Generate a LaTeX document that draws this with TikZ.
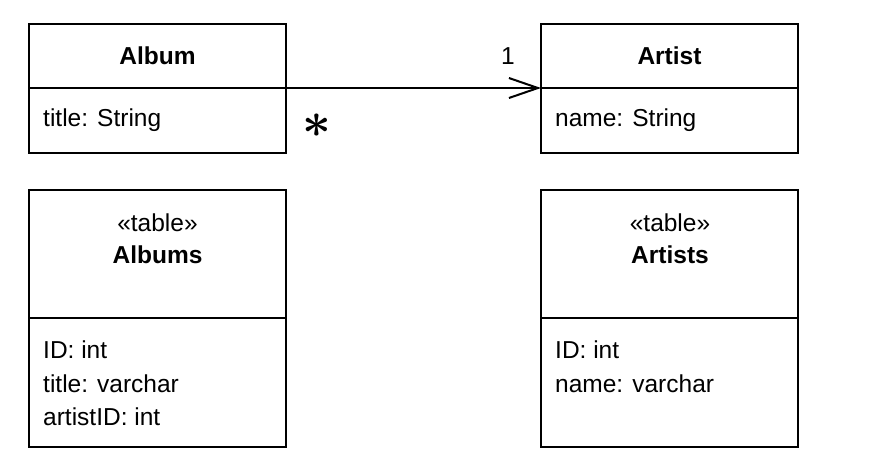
\documentclass[tikz,border=0pt]{standalone}
\usepackage{fontspec}
\usepackage{graphicx}
\setmainfont{Liberation Sans}
\usetikzlibrary{arrows.meta}
\begin{document}
\begin{tikzpicture}[x=1pt,y=-1pt,
  box/.style={draw, line width=2pt, minimum width=257pt, inner sep=0pt, outer sep=0pt, anchor=north west},
  cname/.style={font=\fontsize{24.5}{28}\selectfont\bfseries, inner sep=0pt},
  plain/.style={font=\fontsize{24.5}{28}\selectfont, inner sep=0pt},
  attr/.style={plain, anchor=west},
  mult/.style={font=\fontsize{10}{12}\selectfont\boldmath, inner sep=0pt},
  assoc/.style={line width=2pt, -{Straight Barb[length=29pt,width=20pt]}},
]
\useasboundingbox (0,0) rectangle (890,469);
% Album class
\node[box, minimum height=64pt] (albumH) at (29,24) {};
\node[box, minimum height=65pt] (albumB) at (29,88) {};
\node[cname] (albumT) at (albumH.center) {Album};
\node[attr] (albumA) at (43,120.5) {title: String};
% Artist class
\node[box, minimum height=64pt] (artistH) at (541,24) {};
\node[box, minimum height=65pt] (artistB) at (541,88) {};
\node[cname] (artistT) at (artistH.center) {Artist};
\node[attr] (artistA) at (555,120.5) {name: String};
% association
\draw[assoc] (albumH.south east) -- (artistH.south west);
\node[plain] (one) at (508,56) {1};
\node[mult] (many) at (316.5,125.5) {\scalebox{5}{$\ast$}};
% Albums table
\node[box, minimum height=128pt] (albumsH) at (29,190) {};
\node[box, minimum height=129pt] (albumsB) at (29,318) {};
\node[plain] (albumsS) at (157.5,223) {«table»};
\node[cname] (albumsT) at (157.5,255) {Albums};
\node[attr] (albumsA1) at (43,350) {ID: int};
\node[attr] (albumsA2) at (43,383.5) {title: varchar};
\node[attr] (albumsA3) at (43,417) {artistID: int};
% Artists table
\node[box, minimum height=128pt] (artistsH) at (541,190) {};
\node[box, minimum height=129pt] (artistsB) at (541,318) {};
\node[plain] (artistsS) at (670,223) {«table»};
\node[cname] (artistsT) at (670,255) {Artists};
\node[attr] (artistsA1) at (555,350) {ID: int};
\node[attr] (artistsA2) at (555,383.5) {name: varchar};
\end{tikzpicture}
\end{document}
